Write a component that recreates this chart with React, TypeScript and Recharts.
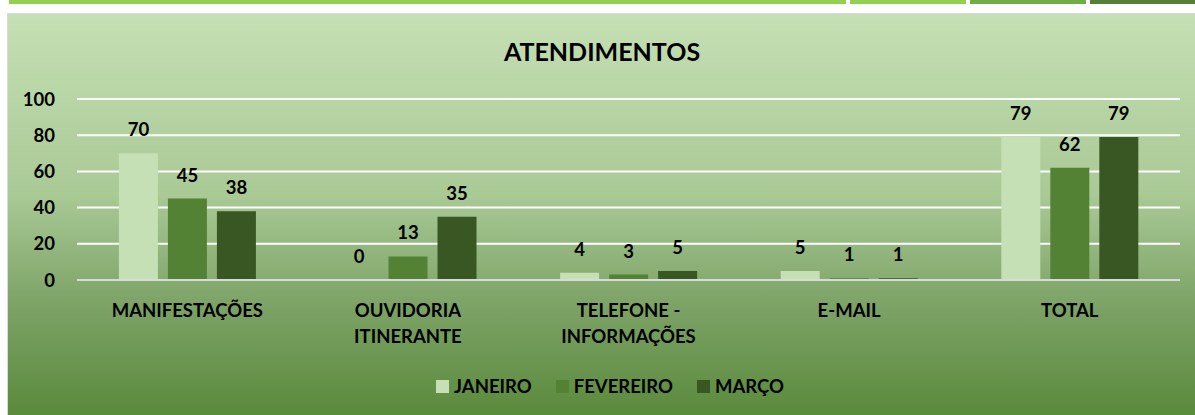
import React from 'react';
import { BarChart, Bar, XAxis, YAxis, CartesianGrid, LabelList } from 'recharts';

const categories = ['MANIFESTAÇÕES', 'OUVIDORIA ITINERANTE', 'TELEFONE - INFORMAÇÕES', 'E-MAIL', 'TOTAL'];
const tickLines: string[][] = [
  ['MANIFESTAÇÕES'],
  ['OUVIDORIA', 'ITINERANTE'],
  ['TELEFONE -', 'INFORMAÇÕES'],
  ['E-MAIL'],
  ['TOTAL'],
];
const janeiro = [70, 0, 4, 5, 79];
const fevereiro = [45, 13, 3, 1, 62];
const marco = [38, 35, 5, 1, 79];
const yTicks = [0, 20, 40, 60, 80, 100];

const series = [
  { key: 'JANEIRO', values: janeiro, color: '#c5e0b4' },
  { key: 'FEVEREIRO', values: fevereiro, color: '#548235' },
  { key: 'MARÇO', values: marco, color: '#385723' },
];

const data = categories.map((name, i) => ({
  name,
  JANEIRO: janeiro[i],
  FEVEREIRO: fevereiro[i],
  'MARÇO': marco[i],
}));

const FONT = 'Lato, "Open Sans", sans-serif';
const FS = 18.5;

const CategoryTick = (props: any) => {
  const { x, y, payload } = props;
  const lines = tickLines[payload.index] || [payload.value];
  return (
    <g transform={`translate(${x},${y})`}>
      {lines.map((line, i) => (
        <text
          key={i}
          x={0}
          y={29 + i * 26}
          textAnchor="middle"
          fill="#000"
          fontFamily={FONT}
          fontWeight={700}
          fontSize={FS}
        >
          {line}
        </text>
      ))}
    </g>
  );
};

// value label, also drawn for zero-height bars
const ValueLabel = (props: any) => {
  const { x, y, width, height, value } = props;
  const top = Math.min(Number(y), Number(y) + Number(height));
  return (
    <text
      x={Number(x) + Number(width) / 2}
      y={top - 17}
      textAnchor="middle"
      fill="#000"
      fontFamily={FONT}
      fontWeight={700}
      fontSize={FS}
    >
      {value}
    </text>
  );
};

export default function App() {
  return (
    <div style={{ position: 'fixed', left: 0, top: 0, width: 1195, height: 415, background: '#fff', overflow: 'hidden' }}>
      {/* top strip */}
      <div style={{ position: 'absolute', top: 0, left: 9, width: 837, height: 4, background: '#92d050' }} />
      <div style={{ position: 'absolute', top: 0, left: 850, width: 116, height: 4, background: '#92d050' }} />
      <div style={{ position: 'absolute', top: 0, left: 970, width: 116, height: 4, background: '#70ad47' }} />
      <div style={{ position: 'absolute', top: 0, left: 1090, width: 105, height: 4, background: '#538135' }} />

      {/* chart area */}
      <div
        style={{
          position: 'absolute',
          left: 7,
          top: 13,
          width: 1188,
          height: 402,
          borderLeft: '1px solid #d9d9d9',
          borderTop: '1px solid #d9d9d9',
          background: 'linear-gradient(to bottom, #c5e0b4 0%, #a9c995 45%, #7da367 72%, #5a8a3c 100%)',
        }}
      >
        <div
          style={{
            position: 'absolute',
            top: 22,
            left: 0,
            width: 1188,
            textAlign: 'center',
            fontFamily: FONT,
            fontWeight: 700,
            fontSize: 25,
            color: '#000',
          }}
        >
          ATENDIMENTOS
        </div>
        <BarChart
          width={1187}
          height={401}
          data={data}
          margin={{ top: 85, right: 15, left: 9, bottom: 105 }}
          barCategoryGap="19%"
          barGap={10}
        >
          <CartesianGrid vertical={false} stroke="#ffffff" strokeWidth={2} />
          <XAxis
            dataKey="name"
            height={30}
            tick={<CategoryTick />}
            tickLine={false}
            axisLine={{ stroke: '#d9d9d9', strokeWidth: 2 }}
            interval={0}
          />
          <YAxis
            domain={[0, 100]}
            ticks={yTicks}
            width={60}
            axisLine={false}
            tickLine={false}
            tickSize={0}
            tickMargin={22}
            tick={{ fill: '#000', fontFamily: FONT, fontWeight: 700, fontSize: FS }}
          />
          {series.map((s) => (
            <Bar key={s.key} dataKey={s.key} fill={s.color} minPointSize={0.01} isAnimationActive={false}>
              <LabelList dataKey={s.key} content={<ValueLabel />} />
            </Bar>
          ))}
        </BarChart>

        {/* legend */}
        <div
          style={{
            position: 'absolute',
            top: 361,
            left: 8,
            width: 1188,
            display: 'flex',
            justifyContent: 'center',
            gap: 24,
            fontFamily: FONT,
            fontWeight: 700,
            fontSize: FS,
            color: '#000',
          }}
        >
          {series.map((s) => (
            <div key={s.key} style={{ display: 'flex', alignItems: 'center', gap: 5 }}>
              <span style={{ display: 'inline-block', width: 13, height: 13, background: s.color }} />
              <span>{s.key}</span>
            </div>
          ))}
        </div>
      </div>
    </div>
  );
}
